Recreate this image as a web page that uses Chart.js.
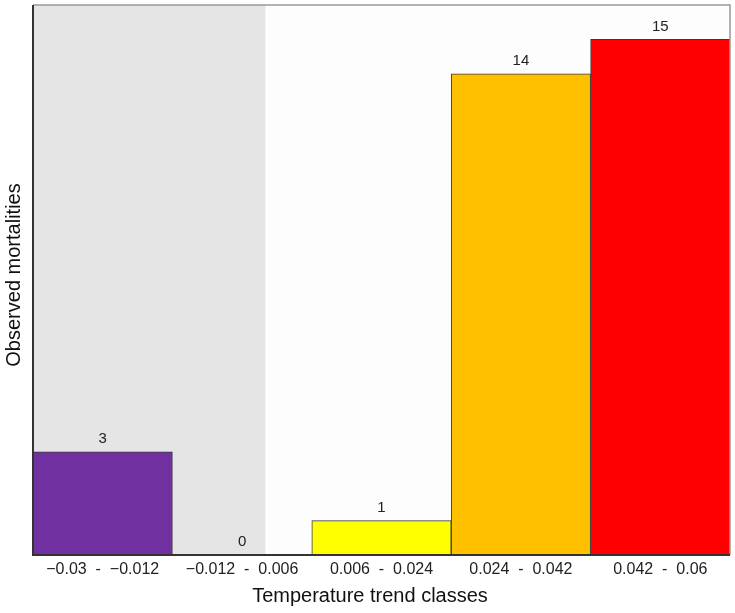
<!DOCTYPE html>
<html>
<head>
<meta charset="utf-8">
<script src="https://cdn.jsdelivr.net/npm/chart.js@4.4.1/dist/chart.umd.min.js"></script>
<style>
  html, body { margin: 0; padding: 0; background: #ffffff; }
  #wrap { width: 735px; height: 613px; }
</style>
</head>
<body>
<div id="wrap"><canvas id="myBarChart"></canvas></div>
<script>
// class labels and counts
const classLabels = ["\u22120.03  -  \u22120.012", "\u22120.012  -  0.006", "0.006  -  0.024", "0.024  -  0.042", "0.042  -  0.06"];
const classEdges = [-0.03, -0.012, 0.006, 0.024, 0.042, 0.06];
const mortalities = [3, 0, 1, 14, 15];
const barColors = ["#7030A0", "#7030A0", "#FFFF00", "#FFC000", "#FF0000"];
const xTitle = "Temperature trend classes";
const yTitle = "Observed mortalities";
const fontFam = "'Liberation Sans', Arial, sans-serif";

//grey area behind negative trends + frame
const shadePlugin = {
  id: "shade",
  beforeDraw: (chart) => {
    const { ctx, chartArea, scales } = chart;
    const x = scales.x;
    ctx.save();
    ctx.fillStyle = "#fdfdfd";
    ctx.fillRect(chartArea.left, chartArea.top, chartArea.right - chartArea.left, chartArea.bottom - chartArea.top);
    // find class holding zero
    let zeroPx = chartArea.left;
    for (let i = 0; i < classLabels.length; i++) {
      if (classEdges[i] <= 0 && classEdges[i + 1] > 0) {
        const w = x.getPixelForValue(1) - x.getPixelForValue(0);
        const left = x.getPixelForValue(i) - w / 2;
        zeroPx = left + w * (0 - classEdges[i]) / (classEdges[i + 1] - classEdges[i]);
      }
    }
    ctx.fillStyle = "#e5e5e5";
    ctx.fillRect(chartArea.left, chartArea.top, zeroPx - chartArea.left, chartArea.bottom - chartArea.top);
    ctx.restore();
  },
  afterDraw: (chart) => {
    const { ctx, chartArea } = chart;
    ctx.save();
    ctx.strokeStyle = "#999999";
    ctx.lineWidth = 1.5;
    ctx.beginPath();
    ctx.moveTo(chartArea.left, chartArea.top);
    ctx.lineTo(chartArea.right, chartArea.top);
    ctx.lineTo(chartArea.right, chartArea.bottom);
    ctx.stroke();
    ctx.strokeStyle = "#333333";
    ctx.lineWidth = 2;
    ctx.beginPath();
    ctx.moveTo(chartArea.left, chartArea.top);
    ctx.lineTo(chartArea.left, chartArea.bottom);
    ctx.lineTo(chartArea.right, chartArea.bottom);
    ctx.stroke();
    // value labels on top of bars
    const meta = chart.getDatasetMeta(0);
    ctx.fillStyle = "#222222";
    ctx.font = "15px " + fontFam;
    ctx.textAlign = "center";
    ctx.textBaseline = "middle";
    meta.data.forEach((bar, i) => {
      ctx.fillText(String(mortalities[i]), bar.x, bar.y - 13);
    });
    // axis titles
    ctx.fillStyle = "#111111";
    ctx.font = "20px " + fontFam;
    ctx.fillText(xTitle, 370, 596);
    ctx.translate(14, 275);
    ctx.rotate(-Math.PI / 2);
    ctx.fillText(yTitle, 0, 0);
    ctx.restore();
  },
};

new Chart("myBarChart", {
  type: "bar",
  data: {
    labels: classLabels,
    datasets: [
      {
        label: yTitle,
        data: mortalities,
        backgroundColor: barColors,
        borderColor: "#3a3a3a",
        borderWidth: 1,
        borderSkipped: false,
        barPercentage: 1,
        categoryPercentage: 1,
      },
    ],
  },
  options: {
    animation: false,
    responsive: true,
    maintainAspectRatio: false,
    layout: { padding: { top: 5, right: 5, left: 0, bottom: 0 } },
    plugins: {
      legend: { display: false },
      tooltip: { enabled: false },
    },
    scales: {
      x: {
        grid: { display: false, drawTicks: false },
        border: { display: false },
        ticks: {
          color: "#222222",
          padding: 5,
          maxRotation: 0,
          autoSkip: false,
          font: { size: 16, family: fontFam },
        },
        afterFit: (scale) => {
          scale.height = 58;
        },
      },
      y: {
        min: 0,
        max: 16,
        grid: { display: false, drawTicks: false },
        border: { display: false },
        ticks: { display: false },
        afterFit: (scale) => {
          scale.width = 33;
        },
      },
    },
  },
  plugins: [shadePlugin],
});
</script>
</body>
</html>
